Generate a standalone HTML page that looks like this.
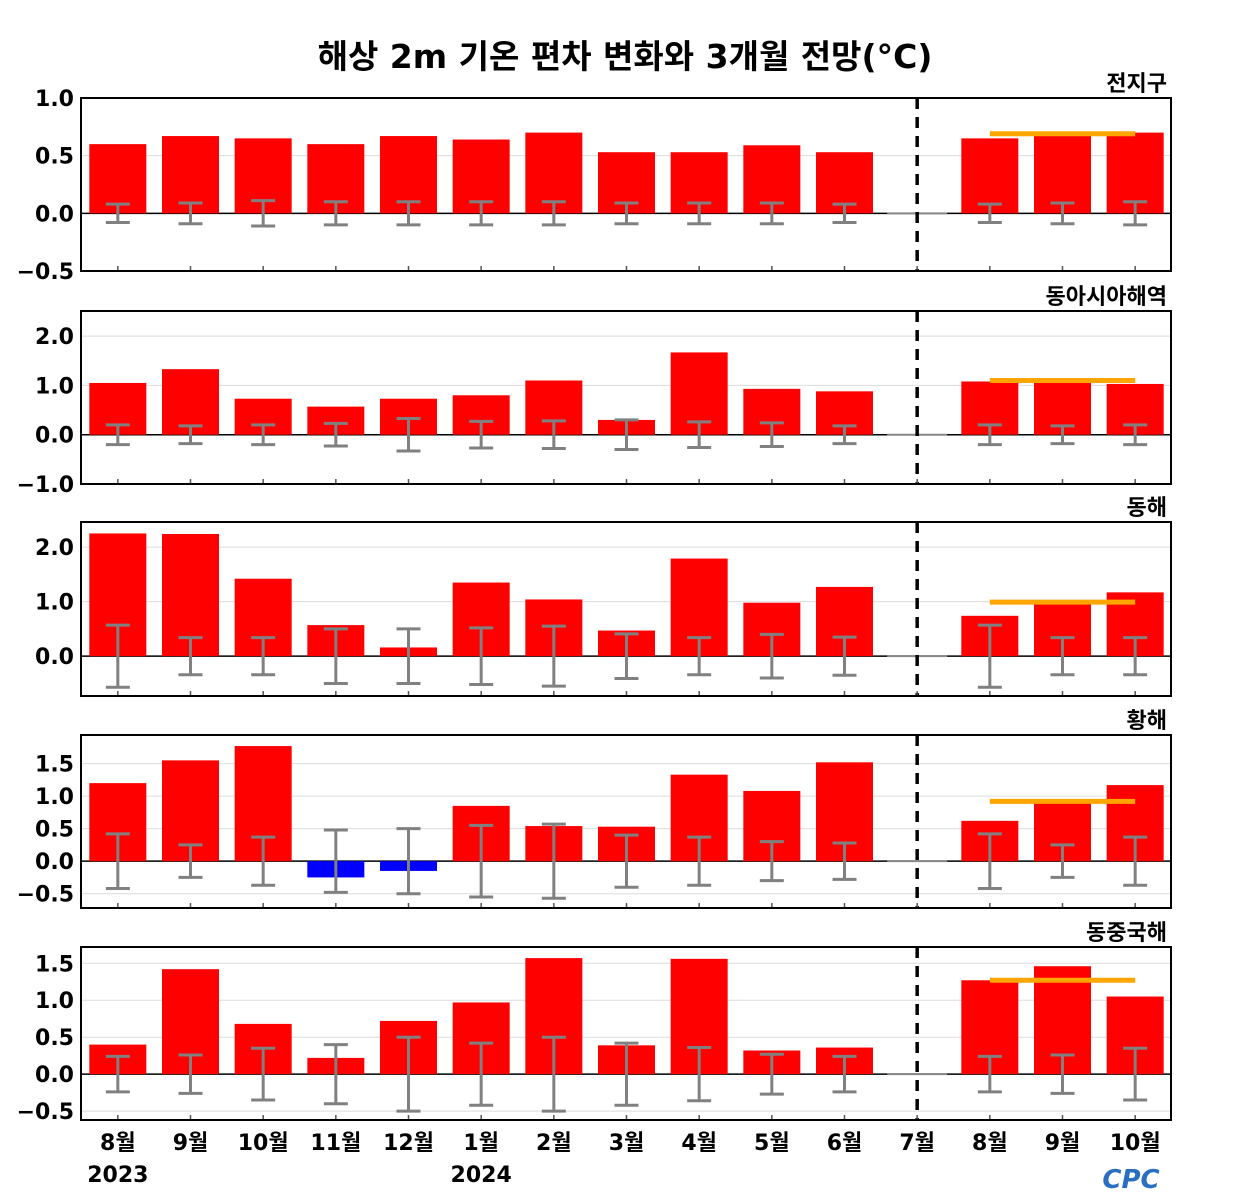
<!DOCTYPE html>
<html><head><meta charset="utf-8">
<style>
body{margin:0;background:#fff;}
svg{display:block;font-family:"DejaVu Sans","Noto Sans CJK KR",sans-serif;font-weight:bold;}
</style></head>
<body>
<svg id="chart" width="1250" height="1200" viewBox="0 0 1250 1200">
<text x="625" y="68" text-anchor="middle" font-size="33">해상 2m 기온 편차 변화와 3개월 전망(°C)</text>
<text x="1131" y="1188" text-anchor="middle" font-size="26" fill="#2a6fc0" font-style="italic">CPC</text>
</svg>
<script>
const categories = ["8월","9월","10월","11월","12월","1월","2월","3월","4월","5월","6월","7월","8월","9월","10월"];
const yearLabels = [["2023",0],["2024",5]];
const panelNames = ["전지구","동아시아해역","동해","황해","동중국해"];
const values1 = [0.6,0.67,0.65,0.6,0.67,0.64,0.7,0.53,0.53,0.59,0.53,null,0.65,0.68,0.7];
const errors1 = [0.08,0.09,0.11,0.1,0.1,0.1,0.1,0.09,0.09,0.09,0.08,null,0.08,0.09,0.1];
const forecast1 = 0.69;
const values2 = [1.05,1.33,0.73,0.57,0.73,0.8,1.1,0.3,1.67,0.93,0.88,null,1.08,1.07,1.03];
const errors2 = [0.2,0.18,0.2,0.23,0.33,0.27,0.28,0.3,0.26,0.24,0.18,null,0.2,0.18,0.2];
const forecast2 = 1.1;
const values3 = [2.25,2.24,1.42,0.57,0.16,1.35,1.04,0.47,1.79,0.98,1.27,null,0.74,1.0,1.17];
const errors3 = [0.57,0.34,0.34,0.5,0.5,0.52,0.55,0.41,0.34,0.4,0.35,null,0.57,0.34,0.34];
const forecast3 = 0.99;
const values4 = [1.2,1.55,1.77,-0.25,-0.15,0.85,0.54,0.53,1.33,1.08,1.52,null,0.62,0.92,1.17];
const errors4 = [0.42,0.25,0.37,0.48,0.5,0.55,0.57,0.4,0.37,0.3,0.28,null,0.42,0.25,0.37];
const forecast4 = 0.92;
const values5 = [0.4,1.42,0.68,0.22,0.72,0.97,1.57,0.39,1.56,0.32,0.36,null,1.27,1.46,1.05];
const errors5 = [0.24,0.26,0.35,0.4,0.5,0.42,0.5,0.42,0.36,0.27,0.24,null,0.24,0.26,0.35];
const forecast5 = 1.27;
const ticks1 = [-0.5,0,0.5,1.0];
const ticks2 = [-1.0,0,1.0,2.0];
const ticks3 = [0,1.0,2.0];
const ticks4 = [-0.5,0,0.5,1.0,1.5];
const ticks5 = [-0.5,0,0.5,1.0,1.5];

const svg = document.getElementById('chart');
const NS = "http://www.w3.org/2000/svg";
function mk(tag, attrs, parent){const e=document.createElementNS(NS,tag);for(const k in attrs)e.setAttribute(k,attrs[k]);(parent||svg).appendChild(e);return e;}

const X0=81, X1=1171;
const step=(X1-X0)/15;
function xScale(i){return X0+step*(i+0.5)+0.5;}

const panels=[
 {top:98,bot:271,min:-0.5,max:1.0,v:values1,e:errors1,f:forecast1,t:ticks1},
 {top:311,bot:484,min:-1.0,max:2.51,v:values2,e:errors2,f:forecast2,t:ticks2},
 {top:522,bot:696,min:-0.73,max:2.46,v:values3,e:errors3,f:forecast3,t:ticks3},
 {top:735,bot:908,min:-0.72,max:1.94,v:values4,e:errors4,f:forecast4,t:ticks4},
 {top:947,bot:1120,min:-0.62,max:1.72,v:values5,e:errors5,f:forecast5,t:ticks5}
];

panels.forEach((p,pi)=>{
 const g=mk('g',{});
 
 
 const y=v=>p.bot-(v-p.min)/(p.max-p.min)*(p.bot-p.top);
 p.t.forEach(t=>{
  const gl=mk('line',{x1:X0,x2:X1,y1:y(t),y2:y(t),stroke:'#dcdcdc','stroke-width':1},g);
  
  
  const tl=mk('text',{x:74,y:y(t)+8,'text-anchor':'end','font-size':22},g);
  tl.textContent=(t<0?'\u2212':'')+Math.abs(t).toFixed(1);
  
  
 });
 const z=mk('line',{x1:X0,x2:X1,y1:y(0),y2:y(0),stroke:'#000','stroke-width':1.5},g);
 
 
 const zg=mk('line',{x1:xScale(11)-30,x2:xScale(11)+30,y1:y(0),y2:y(0),stroke:'#888','stroke-width':2},g);
 
 
 p.v.forEach((v,i)=>{
  if(v===null)return;
  const cx=xScale(i);
  const r=mk('rect',{x:cx-28.5,width:57,y:Math.min(y(v),y(0)),height:Math.abs(y(v)-y(0)),fill:v<0?'#0000ff':'#ff0000'},g);
  
  
 });
 p.e.forEach((e,i)=>{
  if(e===null)return;
  const cx=xScale(i);
  const eg=mk('g',{stroke:'#808080','stroke-width':3},g);
  
  
  mk('line',{x1:cx,x2:cx,y1:y(-e),y2:y(e)},eg);
  mk('line',{x1:cx-12,x2:cx+12,y1:y(e),y2:y(e)},eg);
  mk('line',{x1:cx-12,x2:cx+12,y1:y(-e),y2:y(-e)},eg);
 });
 const fl=mk('line',{x1:xScale(12),x2:xScale(14),y1:y(p.f),y2:y(p.f),stroke:'#ffa500','stroke-width':5},g);
 
 
 const dl=mk('line',{x1:xScale(11),x2:xScale(11),y1:p.top,y2:p.bot,stroke:'#000','stroke-width':3.5,'stroke-dasharray':'11,8'},g);
 
 
 categories.forEach((c,i)=>{
  mk('line',{x1:xScale(i),x2:xScale(i),y1:p.bot,y2:p.bot-5,stroke:'#555','stroke-width':1.5},g);
 });
 const fr=mk('rect',{x:X0,y:p.top,width:X1-X0,height:p.bot-p.top,fill:'none',stroke:'#000','stroke-width':2},g);
 
 
 const nm=mk('text',{x:1167,y:p.top-7,'text-anchor':'end','font-size':22},g);
 nm.textContent=panelNames[pi];
 
 
});

categories.forEach((c,i)=>{
 const t=mk('text',{x:xScale(i),y:1150,'text-anchor':'middle','font-size':22});
 t.textContent=c;
 
 
});
yearLabels.forEach(([yr,i])=>{
 const t=mk('text',{x:xScale(i),y:1182,'text-anchor':'middle','font-size':22});
 t.textContent=yr;
 
 
});
</script>
</body></html>
